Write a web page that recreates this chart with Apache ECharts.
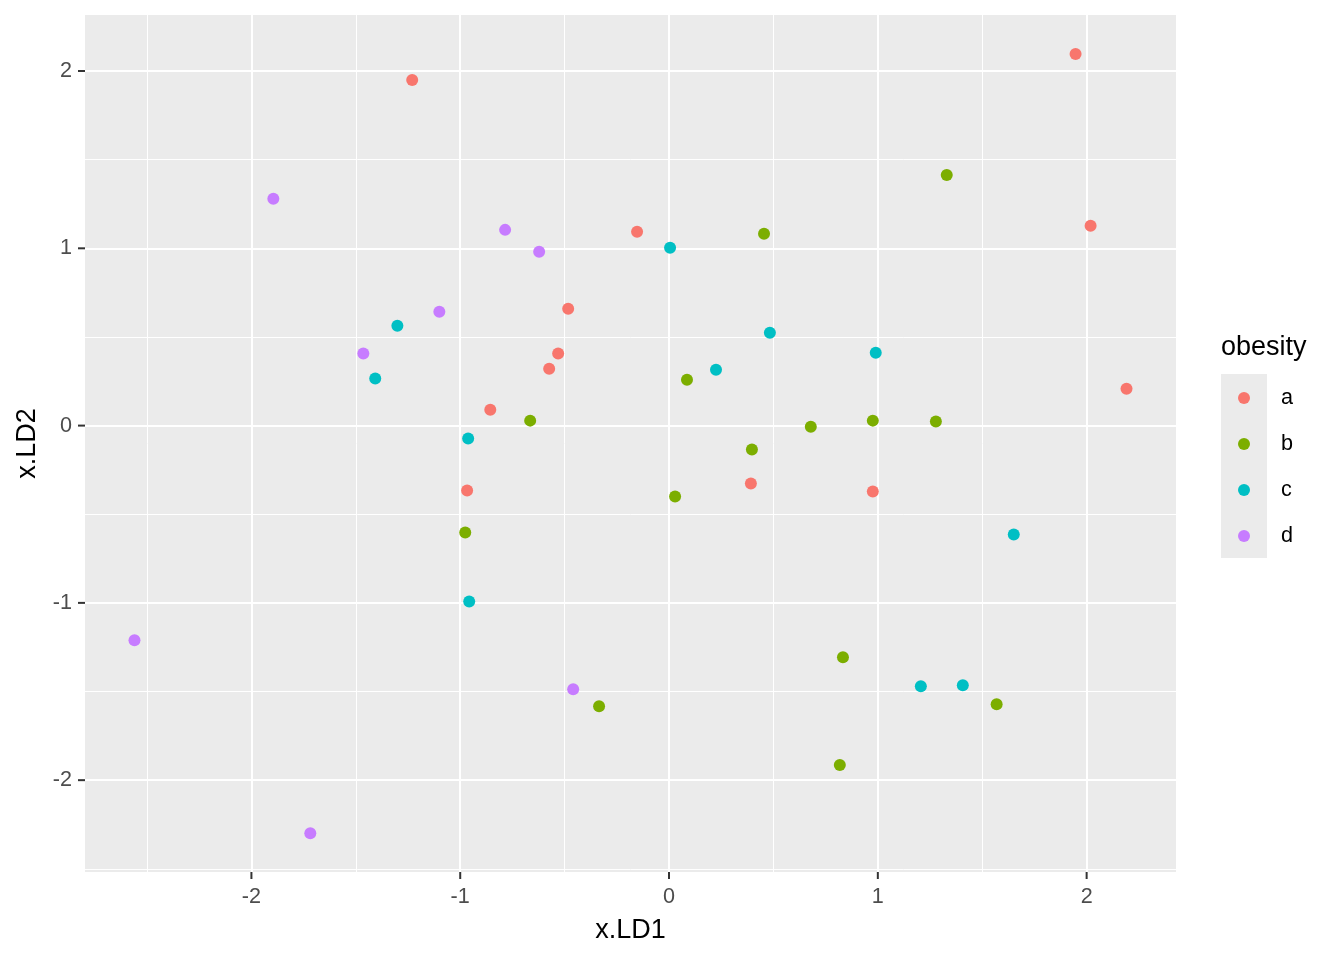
<!DOCTYPE html>
<html>
<head>
<meta charset="utf-8">
<script src="https://cdn.jsdelivr.net/npm/echarts@6/dist/echarts.min.js"></script>
<style>
  html, body { margin: 0; padding: 0; background: #fff; }
  #chart { width: 1344px; height: 960px; }
</style>
</head>
<body>
<div id="chart"></div>
<script>
// LD1 / LD2 scores per obesity group
const groups = ['a', 'b', 'c', 'd']
const colors = ['#F8766D', '#7CAE00', '#00BFC4', '#C77CFF']

const groupA = [
  [-1.230, 1.949], [1.947, 2.096], [2.019, 1.127], [2.191, 0.208],
  [-0.153, 1.093], [-0.483, 0.659], [-0.531, 0.406], [-0.574, 0.321],
  [-0.856, 0.090], [-0.967, -0.366], [0.392, -0.327], [0.976, -0.372]
]
const groupB = [
  [1.330, 1.414], [0.455, 1.082], [0.086, 0.259], [-0.665, 0.028],
  [0.679, -0.006], [0.976, 0.028], [1.278, 0.023], [0.397, -0.135],
  [0.029, -0.400], [-0.976, -0.603], [0.833, -1.307], [-0.335, -1.583],
  [1.569, -1.572], [0.818, -1.915]
]
const groupC = [
  [0.005, 1.003], [0.483, 0.524], [0.225, 0.315], [0.990, 0.411],
  [-1.301, 0.563], [-1.407, 0.265], [-0.962, -0.073], [-0.957, -0.992],
  [1.651, -0.614], [1.206, -1.470], [1.407, -1.465]
]
const groupD = [
  [-1.895, 1.279], [-0.785, 1.104], [-0.622, 0.980], [-1.100, 0.642],
  [-1.464, 0.406], [-2.560, -1.211], [-0.459, -1.487], [-1.718, -2.299]
]
const groupData = [groupA, groupB, groupC, groupD]

const majorBreaks = [-2, -1, 0, 1, 2]
const minorBreaksX = [-2.5, -1.5, -0.5, 0.5, 1.5]
const minorBreaksY = [-2.5, -1.5, -0.5, 0.5, 1.5]

const chart = echarts.init(document.getElementById('chart'))

// panel grid lines (minor thin, major thick)
const gridLines = []
minorBreaksX.forEach(v => gridLines.push({ xAxis: v, lineStyle: { width: 1 } }))
minorBreaksY.forEach(v => gridLines.push({ yAxis: v, lineStyle: { width: 1 } }))
majorBreaks.forEach(v => gridLines.push({ xAxis: v, lineStyle: { width: 2 } }))
majorBreaks.forEach(v => gridLines.push({ yAxis: v, lineStyle: { width: 2 } }))

const TICK_LEN = 7
const tickStyle = { stroke: '#333333', lineWidth: 2 }

const axisCommon = {
  type: 'value',
  axisLine: { show: false, onZero: false },
  splitLine: { show: false },
  axisTick: { show: false },
  axisLabel: {
    customValues: majorBreaks,
    color: '#4D4D4D',
    fontSize: 21.6,
    fontFamily: 'Liberation Sans'
  },
  nameLocation: 'middle',
  nameTextStyle: { color: '#000', fontSize: 27, fontFamily: 'Liberation Sans' }
}

const series = [{
  name: 'grid',
  type: 'scatter',
  z: 1,
  silent: true,
  data: [],
  markLine: {
    z: 1,
    silent: true,
    animation: false,
    symbol: ['none', 'none'],
    label: { show: false },
    lineStyle: { color: '#FFFFFF', type: 'solid', width: 2 },
    emphasis: { disabled: true },
    data: gridLines
  }
}, {
  // x axis ticks below the panel
  name: 'xticks',
  type: 'custom',
  clip: false,
  silent: true,
  data: majorBreaks.map(v => [v, 0]),
  renderItem(params, api) {
    const cs = params.coordSys
    const px = api.coord([api.value(0), 0])[0]
    const y0 = cs.y + cs.height
    return { type: 'line', shape: { x1: px, y1: y0, x2: px, y2: y0 + TICK_LEN }, style: tickStyle }
  }
}, {
  // y axis ticks left of the panel
  name: 'yticks',
  type: 'custom',
  clip: false,
  silent: true,
  data: majorBreaks.map(v => [0, v]),
  renderItem(params, api) {
    const cs = params.coordSys
    const py = api.coord([0, api.value(1)])[1]
    return { type: 'line', shape: { x1: cs.x - TICK_LEN, y1: py, x2: cs.x, y2: py }, style: tickStyle }
  }
}]
groups.forEach((g, i) => {
  series.push({
    name: g,
    type: 'scatter',
    z: 3,
    symbol: 'circle',
    symbolSize: 12,
    itemStyle: { color: colors[i], opacity: 1 },
    data: groupData[i]
  })
})

chart.setOption({
  animation: false,
  textStyle: { fontFamily: 'Liberation Sans' },
  grid: {
    left: 85, right: 168, top: 15, bottom: 88,
    show: true, backgroundColor: '#EBEBEB', borderWidth: 0
  },
  title: {
    text: 'obesity',
    left: 1221,
    top: 334,
    padding: 0,
    textStyle: { fontSize: 27, fontWeight: 'normal', color: '#000', fontFamily: 'Liberation Sans' }
  },
  graphic: [{
    type: 'rect',
    left: 1221,
    top: 374,
    shape: { width: 46, height: 184 },
    style: { fill: '#EBEBEB' },
    z: 0
  }],
  legend: {
    data: groups,
    orient: 'vertical',
    left: 1238,
    top: 375,
    padding: 0,
    itemGap: 0,
    itemWidth: 12,
    itemHeight: 12,
    icon: 'circle',
    selectedMode: false,
    textStyle: {
      fontSize: 21.6,
      color: '#000',
      lineHeight: 46,
      padding: [0, 0, 0, 26],
      fontFamily: 'Liberation Sans'
    }
  },
  xAxis: Object.assign({}, axisCommon, {
    min: -2.797,
    max: 2.428,
    name: 'x.LD1',
    nameGap: 45,
    axisLabel: Object.assign({}, axisCommon.axisLabel, { margin: 14 })
  }),
  yAxis: Object.assign({}, axisCommon, {
    min: -2.518,
    max: 2.316,
    name: 'x.LD2',
    nameGap: 44,
    nameRotate: 90,
    axisLabel: Object.assign({}, axisCommon.axisLabel, { margin: 13 })
  }),
  series
})
</script>
</body>
</html>
